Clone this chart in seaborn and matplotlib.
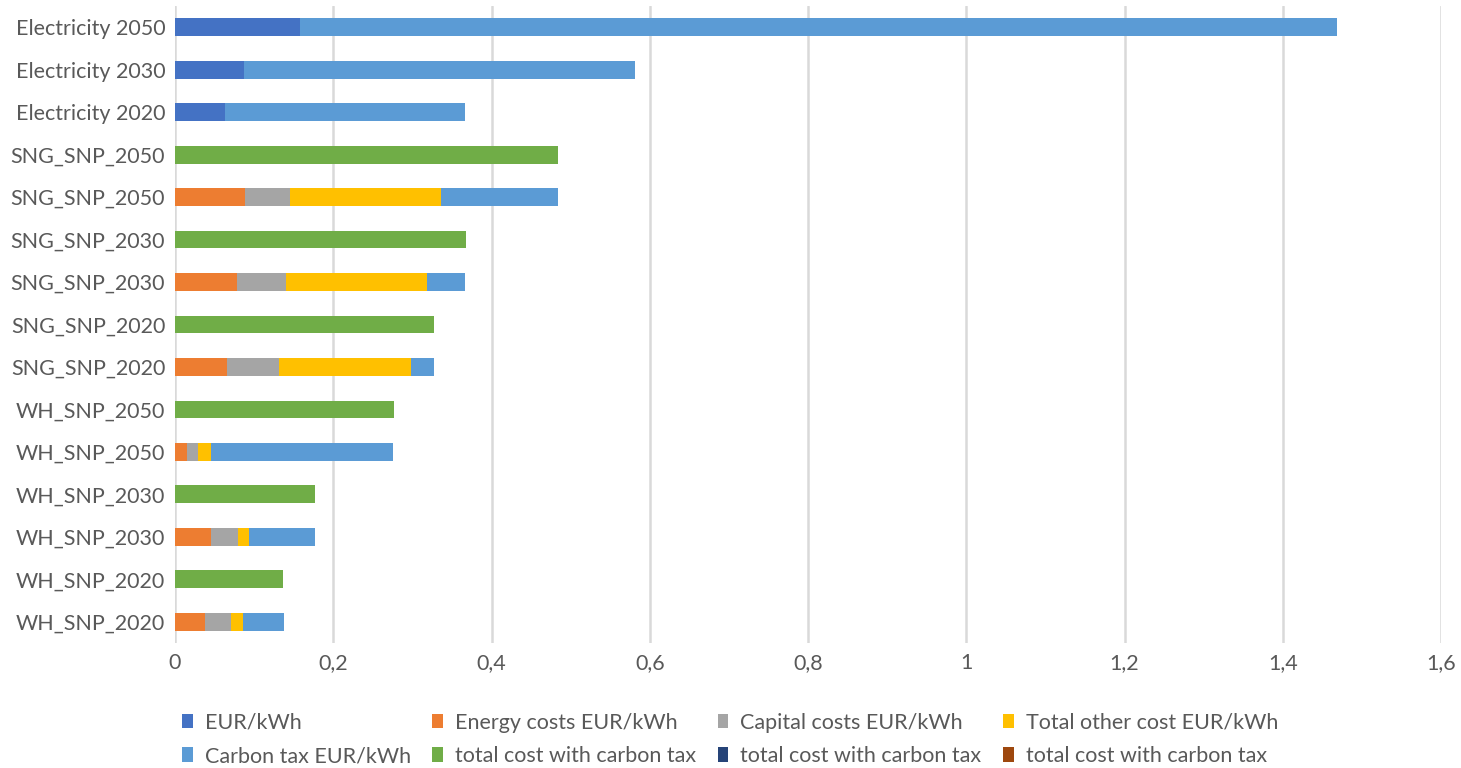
import numpy as np
import pandas as pd
import matplotlib
matplotlib.use("Agg")
import matplotlib.pyplot as plt
from matplotlib.patches import Patch
import seaborn as sns

# Row labels, top to bottom
labels = ["Electricity 2050", "Electricity 2030", "Electricity 2020",
          "SNG_SNP_2050", "SNG_SNP_2050", "SNG_SNP_2030", "SNG_SNP_2030",
          "SNG_SNP_2020", "SNG_SNP_2020", "WH_SNP_2050", "WH_SNP_2050",
          "WH_SNP_2030", "WH_SNP_2030", "WH_SNP_2020", "WH_SNP_2020"]

eur_kwh     = [0.158, 0.087, 0.063, 0, 0,     0, 0,     0, 0,     0, 0,     0, 0,     0, 0]
energy      = [0,     0,     0,     0, 0.088, 0, 0.078, 0, 0.066, 0, 0.015, 0, 0.045, 0, 0.038]
capital     = [0,     0,     0,     0, 0.057, 0, 0.062, 0, 0.066, 0, 0.014, 0, 0.034, 0, 0.033]
other       = [0,     0,     0,     0, 0.191, 0, 0.178, 0, 0.166, 0, 0.016, 0, 0.015, 0, 0.015]
carbon_tax  = [1.310, 0.494, 0.303, 0, 0.148, 0, 0.049, 0, 0.029, 0, 0.231, 0, 0.083, 0, 0.052]
total_cost  = [0,     0,     0,     0.484, 0, 0.368, 0, 0.327, 0, 0.277, 0, 0.177, 0, 0.136, 0]

series_names = ["EUR/kWh", "Energy costs EUR/kWh", "Capital costs EUR/kWh",
                "Total other cost EUR/kWh", "Carbon tax EUR/kWh",
                "total cost with carbon tax", "total cost with carbon tax",
                "total cost with carbon tax"]
colors = ["#4472C4", "#ED7D31", "#A5A5A5", "#FFC000", "#5B9BD5",
          "#70AD47", "#264478", "#9E480E"]

x_ticks = [0, 0.2, 0.4, 0.6, 0.8, 1.0, 1.2, 1.4, 1.6]
x_ticklabels = ["0", "0,2", "0,4", "0,6", "0,8", "1", "1,2", "1,4", "1,6"]

sns.set_theme(style="white")
plt.rcParams["font.family"] = ["Lato", "DejaVu Sans"]
text_color = "#595959"
fs = 15.5

rows = [str(i) for i in range(len(labels))]
stack = np.array([eur_kwh, energy, capital, other, carbon_tax, total_cost])
cum = np.cumsum(stack, axis=0)

fig = plt.figure(figsize=(14.61, 7.68), dpi=100)
ax = fig.add_axes([175 / 1461, 1 - 643 / 768, (1441 - 175) / 1461, (643 - 6) / 768])

# Draw cumulative layers from the outermost inward so each segment shows
for k in range(cum.shape[0] - 1, -1, -1):
    df = pd.DataFrame({"row": rows, "value": cum[k]})
    sns.barplot(data=df, x="value", y="row", order=rows, orient="h",
                color=colors[k], saturation=1, width=0.42, ax=ax,
                edgecolor="none", linewidth=0, zorder=3)

ax.set_xlim(0, 1.6)
ax.set_ylim(len(labels) - 0.5, -0.5)
ax.set_xticks(x_ticks)
ax.set_xticklabels(x_ticklabels, color=text_color, fontsize=fs)
ax.set_yticks(range(len(labels)))
ax.set_yticklabels(labels, color=text_color, fontsize=fs)
ax.set_xlabel("")
ax.set_ylabel("")
ax.tick_params(axis="both", length=0, pad=7)
ax.xaxis.grid(True, color="#d9d9d9", linewidth=1.8, zorder=0)
ax.set_axisbelow(True)
for s in ax.spines.values():
    s.set_visible(False)

# Legend entries laid out row by row across four columns
handles = [Patch(facecolor=c, edgecolor="none", label=n) for c, n in zip(colors, series_names)]
ncol, nrow = 4, 2
ordered = [handles[r * ncol + c] for c in range(ncol) for r in range(nrow)]
leg = fig.legend(handles=ordered, loc="center", bbox_to_anchor=(730 / 1461, 1 - 739.5 / 768),
                 ncol=ncol, frameon=False, fontsize=fs, handlelength=0.5,
                 handleheight=0.65, handletextpad=0.55, columnspacing=1.0,
                 labelspacing=0.62)
for t in leg.get_texts():
    t.set_color(text_color)

fig.savefig("out.png", dpi=100)
